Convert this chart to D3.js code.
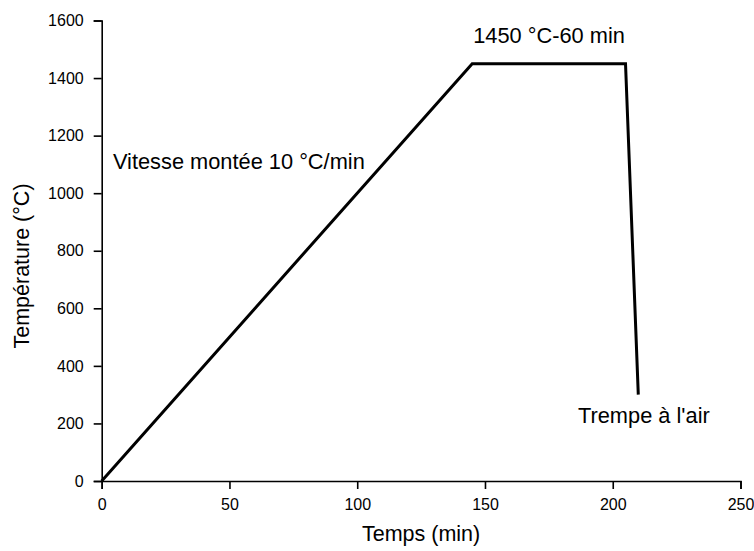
<!DOCTYPE html>
<html>
<head>
<meta charset="utf-8">
<script src="https://d3js.org/d3.v7.min.js"></script>
<style>
  body { margin: 0; background: #fff; }
  svg { display: block; font-family: "Liberation Sans", Arial, sans-serif; }
</style>
</head>
<body>
<div id="chart"></div>
<script>
// Cycle thermique
const timeMin = [0, 145, 205, 210];
const tempC = [0, 1450, 1450, 300];
const xTicks = [0, 50, 100, 150, 200, 250];
const yTicks = [0, 200, 400, 600, 800, 1000, 1200, 1400, 1600];
const labels = [
    { text: "Vitesse montée 10 °C/min", t: 4.4, v: 1084 },
    { text: "1450 °C-60 min", t: 145.4, v: 1522 },
    { text: "Trempe à l'air", t: 186.4, v: 202 }
];

const width = 754, height = 551;
const margin = { left: 101.7, right: 13.5, top: 20.5, bottom: 70 };

const svg = d3.select("#chart").append("svg")
    .attr("width", width)
    .attr("height", height);

const x = d3.scaleLinear().domain([0, 250]).range([margin.left, width - margin.right]);
const y = d3.scaleLinear().domain([0, 1600]).range([height - margin.bottom, margin.top]);

// ticks mineurs (sans étiquette)
const xMinor = d3.range(25, 250, 50);
const yMinor = d3.range(100, 1600, 200);

const gx = svg.append("g").attr("transform", `translate(0,${y(0)})`);
gx.call(d3.axisBottom(x).tickValues(xMinor).tickSize(4).tickFormat(""));
gx.call(d3.axisBottom(x).tickValues(xTicks).tickSize(8).tickPadding(10).tickFormat(d3.format("d")));

const gy = svg.append("g").attr("transform", `translate(${x(0)},0)`);
gy.call(d3.axisLeft(y).tickValues(yMinor).tickSize(4).tickFormat(""));
gy.call(d3.axisLeft(y).tickValues(yTicks).tickSize(8).tickPadding(10).tickFormat(d3.format("d")));

svg.selectAll(".domain").attr("stroke", "#000").attr("stroke-width", 1.6);
svg.selectAll(".tick line").attr("stroke", "#000").attr("stroke-width", 1.6);
svg.selectAll(".tick text")
    .attr("font-size", 16)
    .attr("font-family", "Liberation Sans, Arial, sans-serif")
    .attr("fill", "#000");

// titres des axes
svg.append("text")
    .attr("x", (x(0) + x(250)) / 2)
    .attr("y", 541)
    .attr("text-anchor", "middle")
    .attr("font-size", 21.5)
    .text("Temps (min)");

svg.append("text")
    .attr("transform", "translate(29,266) rotate(-90)")
    .attr("text-anchor", "middle")
    .attr("font-size", 21.5)
    .text("Température (°C)");

// courbe
const line = d3.line()
    .x((d, i) => x(timeMin[i]))
    .y((d, i) => y(tempC[i]));

svg.append("path")
    .datum(tempC)
    .attr("d", line)
    .attr("fill", "none")
    .attr("stroke", "#000")
    .attr("stroke-width", 3)
    .attr("stroke-linejoin", "miter");

// annotations
svg.selectAll(".annot")
    .data(labels)
    .enter().append("text")
    .attr("class", "annot")
    .attr("x", d => x(d.t))
    .attr("y", d => y(d.v))
    .attr("font-size", 21.8)
    .text(d => d.text);
</script>
</body>
</html>
